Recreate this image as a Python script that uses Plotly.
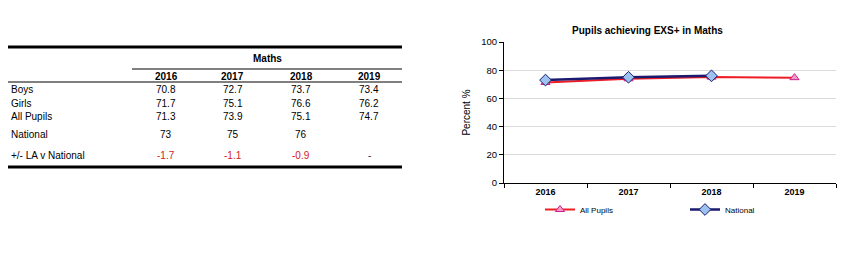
import plotly.graph_objects as go

# ---- data ----
years = ["2016", "2017", "2018", "2019"]
boys = [70.8, 72.7, 73.7, 73.4]
girls = [71.7, 75.1, 76.6, 76.2]
all_pupils = [71.3, 73.9, 75.1, 74.7]
national = [73, 75, 76, None]
la_v_national = [-1.7, -1.1, -0.9, None]
row_labels = ["Boys", "Girls", "All Pupils", "National", "+/- LA v National"]
table_header = "Maths"
chart_title = "Pupils achieving EXS+ in Maths"
y_title = "Percent %"
y_ticks = [0, 20, 40, 60, 80, 100]

W, H = 866, 258
FONT = "Liberation Sans, Arial, sans-serif"


def px(x):
    return x / W


def py(y):
    return 1 - y / H


fig = go.Figure()

fig.add_trace(go.Scatter(
    x=years, y=all_pupils, name="All Pupils", mode="lines+markers",
    line=dict(color="#ee1c25", width=2),
    marker=dict(symbol="triangle-up", size=8, color="#f59ac8",
                line=dict(color="#c8208a", width=1)),
))
fig.add_trace(go.Scatter(
    x=years, y=national, name="National", mode="lines+markers",
    line=dict(color="#1a1a6e", width=2.5),
    marker=dict(symbol="diamond", size=9, color="#9cc3f0",
                line=dict(color="#1a1a6e", width=1)),
))

ann = []
# Chart title
ann.append(dict(text="<b>" + chart_title + "</b>", x=px(647), y=py(31), xref="paper", yref="paper",
                showarrow=False, font=dict(size=10, family=FONT, color="black"),
                xanchor="center", yanchor="middle"))

# ---- table ----
col_x = [166, 233, 301, 369]
row_y = [90, 103, 116, 134, 155]
ann.append(dict(text="<b>" + table_header + "</b>", x=px(267), y=py(59), xref="paper", yref="paper",
                showarrow=False, font=dict(size=10, family=FONT, color="black"),
                xanchor="center", yanchor="middle"))
for yr, cx in zip(years, col_x):
    ann.append(dict(text="<b>" + yr + "</b>", x=px(cx), y=py(76), xref="paper", yref="paper",
                    showarrow=False, font=dict(size=10, family=FONT, color="black"),
                    xanchor="center", yanchor="middle"))
for lab, ry in zip(row_labels, row_y):
    ann.append(dict(text=lab, x=px(9), y=py(ry), xref="paper", yref="paper",
                    showarrow=False, font=dict(size=10, family=FONT, color="black"),
                    xanchor="left", yanchor="middle"))

rows = [boys, girls, all_pupils]
for vals, ry in zip(rows, row_y[:3]):
    for v, cx in zip(vals, col_x):
        ann.append(dict(text=f"{v:.1f}", x=px(cx), y=py(ry), xref="paper", yref="paper",
                        showarrow=False, font=dict(size=10, family=FONT, color="black"),
                        xanchor="center", yanchor="middle"))
for v, cx in zip(national, col_x):
    if v is not None:
        ann.append(dict(text=f"{v:g}", x=px(cx), y=py(row_y[3]), xref="paper", yref="paper",
                        showarrow=False, font=dict(size=10, family=FONT, color="black"),
                        xanchor="center", yanchor="middle"))
for v, cx in zip(la_v_national, col_x):
    if v is None:
        txt, col = "-", "#333333"
    else:
        txt, col = f"{v:.1f}", "#d42020"
    ann.append(dict(text=txt, x=px(cx), y=py(row_y[4]), xref="paper", yref="paper",
                    showarrow=False, font=dict(size=10, family=FONT, color=col),
                    xanchor="center", yanchor="middle"))

shapes = [
    dict(type="line", xref="paper", yref="paper", x0=px(8), x1=px(402), y0=py(47), y1=py(47),
         line=dict(color="black", width=3)),
    dict(type="line", xref="paper", yref="paper", x0=px(132), x1=px(402), y0=py(69), y1=py(69),
         line=dict(color="black", width=1)),
    dict(type="line", xref="paper", yref="paper", x0=px(8), x1=px(402), y0=py(82), y1=py(82),
         line=dict(color="black", width=1)),
    dict(type="line", xref="paper", yref="paper", x0=px(8), x1=px(402), y0=py(167), y1=py(167),
         line=dict(color="black", width=3)),
]

fig.update_layout(
    width=W, height=H,
    margin=dict(l=0, r=0, t=0, b=0, autoexpand=False),
    paper_bgcolor="white", plot_bgcolor="white",
    font=dict(family=FONT, color="black"),
    showlegend=True,
    legend=dict(orientation="h", x=px(540), y=py(195), xanchor="left", yanchor="top",
                font=dict(size=8, family=FONT), entrywidth=100, entrywidthmode="pixels",
                bgcolor="rgba(0,0,0,0)", itemclick=False),
    xaxis=dict(domain=[px(504), px(836)], type="category", range=[-0.5, 3.5],
               showline=True, linecolor="black", linewidth=1, automargin=False,
               ticks="outside", tickson="boundaries", ticklen=4, tickcolor="black",
               tickfont=dict(size=9, family=FONT), tickprefix="<b>", ticksuffix="</b>",
               showgrid=False, zeroline=False),
    yaxis=dict(domain=[py(183), py(42)], range=[0, 100], tickvals=y_ticks,
               showline=True, linecolor="black", linewidth=1, automargin=False,
               ticks="outside", ticklen=4, tickcolor="black",
               tickfont=dict(size=9.5, family=FONT), tickprefix="<b>", ticksuffix="</b>",
               showgrid=True, gridcolor="#dcdcdc", gridwidth=1, zeroline=False,
               title=dict(text=y_title, font=dict(size=10, family=FONT), standoff=8)),
    annotations=ann,
    shapes=shapes,
)

fig.write_html("out.html")
